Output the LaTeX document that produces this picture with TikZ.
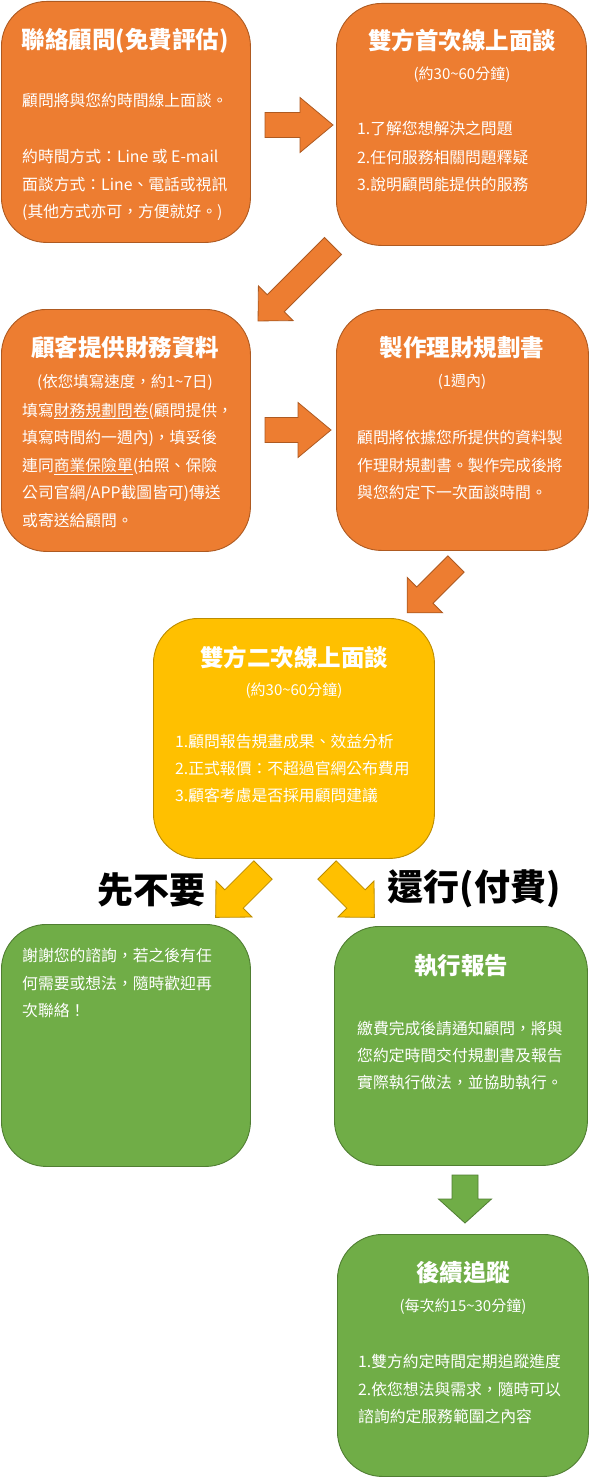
\documentclass[tikz,border=0pt]{standalone}
\usepackage{fontspec}
\setmainfont{Noto Sans CJK TC}
\definecolor{ofill}{HTML}{ED7D31}
\definecolor{oline}{HTML}{AE5A21}
\definecolor{yfill}{HTML}{FFC000}
\definecolor{yline}{HTML}{BC8C00}
\definecolor{gfill}{HTML}{70AD47}
\definecolor{gline}{HTML}{507E32}
\newcommand\barrow[8]{%
  \begin{scope}[shift={(#1,#2)},rotate=#3]
    \draw[#8] (0,-#5/2) -- (#4-#7,-#5/2) -- (#4-#7,-#6/2) -- (#4,0) -- (#4-#7,#6/2) -- (#4-#7,#5/2) -- (0,#5/2) -- cycle;
  \end{scope}}
\begin{document}
\begin{tikzpicture}[x=1pt,y=-1pt,
  boxbase/.style={rounded corners=45pt, line width=0.9pt, anchor=north west, inner sep=0pt},
  obox/.style={boxbase, fill=ofill, draw=oline},
  ybox/.style={boxbase, fill=yfill, draw=yline},
  gbox/.style={boxbase, fill=gfill, draw=gline},
  oarrow/.style={fill=ofill, draw=oline, line width=0.8pt, line join=miter},
  yarrow/.style={fill=yfill, draw=yline, line width=0.8pt, line join=miter},
  garrow/.style={fill=gfill, draw=gline, line width=0.8pt, line join=miter},
  ttl/.style={font=\fontsize{23.5}{28}\selectfont\bfseries, text=white, inner sep=0pt, anchor=base},
  sub/.style={font=\fontsize{15}{18}\selectfont, text=white, inner sep=0pt, anchor=base},
  body/.style={font=\fontsize{15.8}{20}\selectfont, text=white, inner sep=0pt, anchor=base west},
  lbl/.style={font=\fontsize{36}{40}\selectfont\bfseries, text=black, inner sep=0pt, anchor=base}
]
\useasboundingbox (0,0) rectangle (597,1477);
\fill[white] (0,0) rectangle (597,1477);

% boxes
\node[obox, minimum width=249pt, minimum height=241pt] (b1) at (1,1) {};
\node[obox, minimum width=250pt, minimum height=242pt] (b2) at (336,3) {};
\node[obox, minimum width=249pt, minimum height=242pt] (b3) at (1,309) {};
\node[obox, minimum width=252pt, minimum height=241pt] (b4) at (336,309) {};
\node[ybox, minimum width=281pt, minimum height=240pt] (b5) at (153,618) {};
\node[gbox, minimum width=249pt, minimum height=242pt] (b6) at (1,924) {};
\node[gbox, minimum width=253pt, minimum height=239pt] (b7) at (334,926) {};
\node[gbox, minimum width=251pt, minimum height=242pt] (b8) at (337,1234) {};

% block arrows
\barrow{265}{125}{0}{68}{25}{55}{33}{oarrow}
\barrow{265}{430}{0}{66}{25}{55}{33}{oarrow}
\barrow{333}{246}{225}{106}{24}{49}{25}{oarrow}
\barrow{456}{564}{225}{69}{23}{50}{25}{oarrow}
\barrow{263}{870}{225}{67}{26}{51}{26}{yarrow}
\barrow{327}{870}{315}{67}{26}{51}{26}{yarrow}
\barrow{465}{1175}{270}{48}{26}{53}{24}{garrow}

% box 1
\node[ttl] (t1) at (125,49) {聯絡顧問(免費評估)};
\node[body] (t1a) at (22,107) {顧問將與您約時間線上面談。};
\node[body] (t1b) at (22,162) {約時間方式：Line 或 E-mail};
\node[body] (t1c) at (22,190) {面談方式：Line、電話或視訊};
\node[body] (t1d) at (22,217) {(其他方式亦可，方便就好。)};

% box 2
\node[ttl] (t2) at (462,50) {雙方首次線上面談};
\node[sub] (t2s) at (462,80) {(約30\textasciitilde60分鐘)};
\node[body] (t2a) at (357,135) {1.了解您想解決之問題};
\node[body] (t2b) at (357,163) {2.任何服務相關問題釋疑};
\node[body] (t2c) at (357,190) {3.說明顧問能提供的服務};

% box 3
\node[ttl] (t3) at (125,356) {顧客提供財務資料};
\node[sub, font=\fontsize{15.5}{18}\selectfont] (t3s) at (125,387) {(依您填寫速度，約1\textasciitilde7日)};
\node[body] (t3a) at (22,416) {填寫\underline{財務規劃問卷}(顧問提供，};
\node[body] (t3b) at (22,443) {填寫時間約一週內)，填妥後};
\node[body] (t3c) at (22,471) {連同\underline{商業保險單}(拍照、保險};
\node[body] (t3d) at (22,498) {公司官網/APP截圖皆可)傳送};
\node[body] (t3e) at (22,526) {或寄送給顧問。};

% box 4
\node[ttl] (t4) at (462,356) {製作理財規劃書};
\node[sub] (t4s) at (462,386) {(1週內)};
\node[body] (t4a) at (357,443) {顧問將依據您所提供的資料製};
\node[body] (t4b) at (357,471) {作理財規劃書。製作完成後將};
\node[body] (t4c) at (357,498) {與您約定下一次面談時間。};

% box 5
\node[ttl] (t5) at (294,666) {雙方二次線上面談};
\node[sub] (t5s) at (294,695) {(約30\textasciitilde60分鐘)};
\node[body] (t5a) at (175,747) {1.顧問報告規畫成果、效益分析};
\node[body] (t5b) at (175,774) {2.正式報價：不超過官網公布費用};
\node[body] (t5c) at (175,801) {3.顧客考慮是否採用顧問建議};

% labels
\node[lbl] (l1) at (151,903) {先不要};
\node[lbl] (l2) at (474,900) {還行(付費)};

% box 6
\node[body] (t6a) at (22,961) {謝謝您的諮詢，若之後有任};
\node[body] (t6b) at (22,989) {何需要或想法，隨時歡迎再};
\node[body] (t6c) at (22,1016) {次聯絡！};

% box 7
\node[ttl] (t7) at (461,974) {執行報告};
\node[body] (t7a) at (357,1034) {繳費完成後請通知顧問，將與};
\node[body] (t7b) at (357,1061) {您約定時間交付規劃書及報告};
\node[body] (t7c) at (357,1088) {實際執行做法，並協助執行。};

% box 8
\node[ttl] (t8) at (463,1281) {後續追蹤};
\node[sub] (t8s) at (463,1311) {(每次約15\textasciitilde30分鐘)};
\node[body] (t8a) at (358,1367) {1.雙方約定時間定期追蹤進度};
\node[body] (t8b) at (358,1395) {2.依您想法與需求，隨時可以};
\node[body] (t8c) at (358,1422) {諮詢約定服務範圍之內容};
\end{tikzpicture}
\end{document}
